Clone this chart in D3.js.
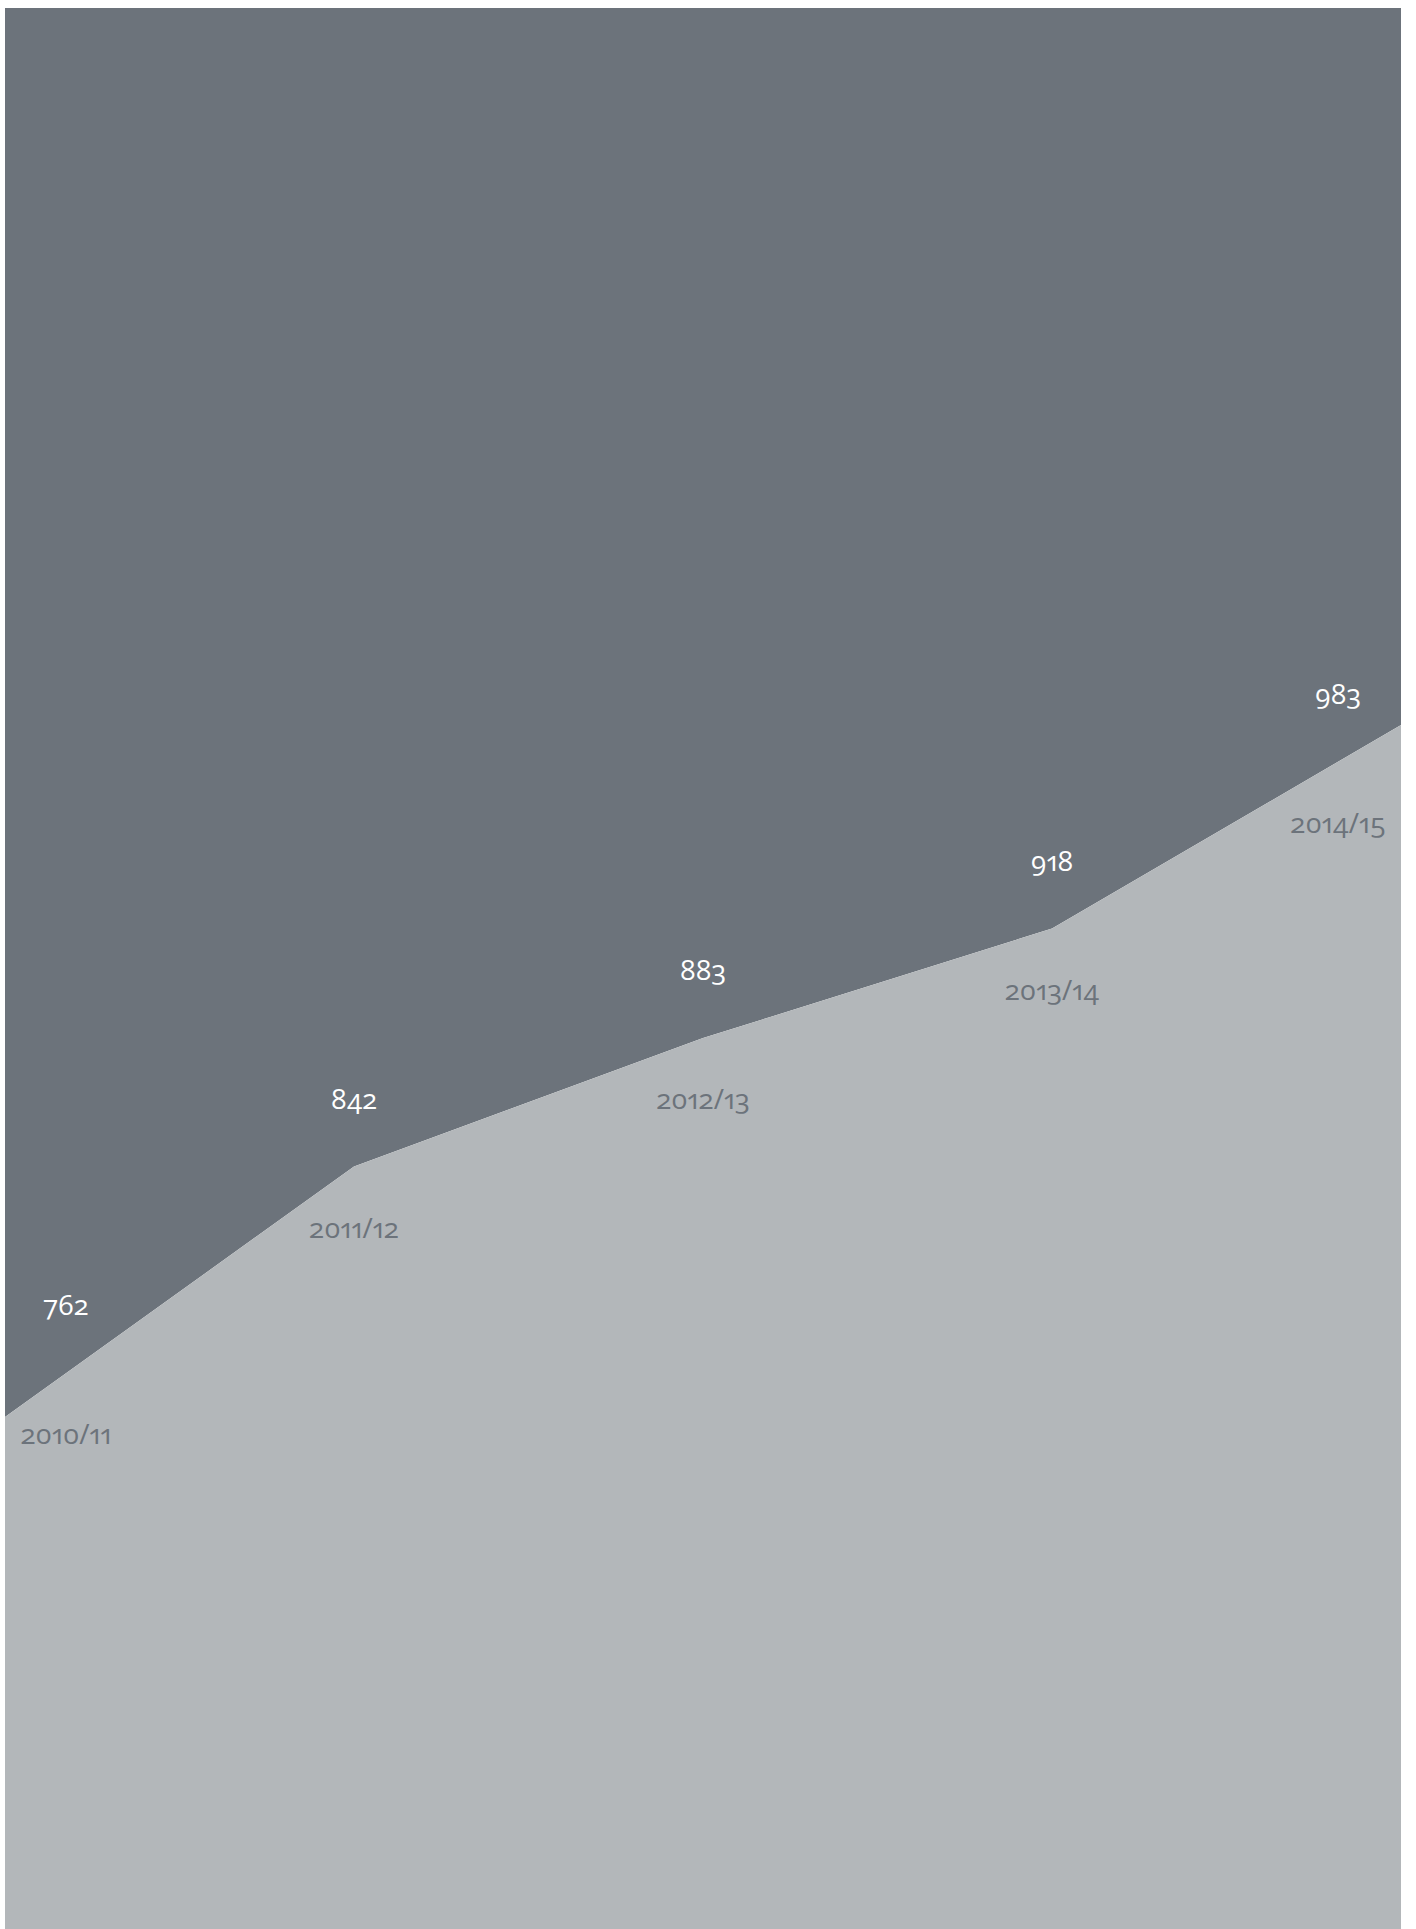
<!DOCTYPE html>
<html>
<head>
<meta charset="utf-8">
<script src="https://cdn.jsdelivr.net/npm/d3@7"></script>
<style>
  html, body { margin: 0; padding: 0; background: #ffffff; }
  svg { display: block; }
  text { font-family: "Open Sans", "Noto Sans", sans-serif; font-feature-settings: "onum" 1, "pnum" 1; font-variant-numeric: oldstyle-nums proportional-nums; }
</style>
</head>
<body>
<svg id="chart" width="1416" height="1929"></svg>
<script>
const years = ["2010/11", "2011/12", "2012/13", "2013/14", "2014/15"];
const values = [762, 842, 883, 918, 983];

const W = 1416, H = 1929;
const mLeft = 5, mRight = 1401, mTop = 8, mBottom = 1929;
const darkColor = "#6c737b", lightColor = "#b3b7ba";

const svg = d3.select("#chart");

const x = d3.scalePoint().domain(years).range([mLeft, mRight]);
const y = d3.scaleLinear().domain([d3.min(values), d3.max(values)]).range([1417, 725]);

const data = years.map((yr, i) => ({ year: yr, value: values[i] }));

// dark upper area
svg.append("path")
  .datum(data)
  .attr("fill", darkColor)
  .attr("d", d3.area().x(d => x(d.year)).y0(mTop).y1(d => y(d.value)));

// light lower area
svg.append("path")
  .datum(data)
  .attr("fill", lightColor)
  .attr("d", d3.area().x(d => x(d.year)).y0(d => y(d.value)).y1(mBottom));

// line y at arbitrary x (piecewise linear)
const lineY = px => {
  const xs = data.map(d => x(d.year));
  const ys = data.map(d => y(d.value));
  for (let i = 0; i < xs.length - 1; i++) {
    if (px <= xs[i + 1]) {
      const t = (px - xs[i]) / (xs[i + 1] - xs[i]);
      return ys[i] + t * (ys[i + 1] - ys[i]);
    }
  }
  return ys[ys.length - 1];
};

const labelX = d => Math.max(mLeft + 61, Math.min(mRight - 63, x(d.year)));

svg.append("g").selectAll("text")
  .data(data).join("text")
  .attr("x", labelX)
  .attr("y", d => lineY(labelX(d)) - 58)
  .attr("text-anchor", "middle")
  .attr("fill", "#ffffff")
  .attr("font-size", 27.5)
  .text(d => d.value);

svg.append("g").selectAll("text")
  .data(data).join("text")
  .attr("x", labelX)
  .attr("y", d => lineY(labelX(d)) + 71)
  .attr("text-anchor", "middle")
  .attr("fill", darkColor)
  .attr("font-size", 28)
  .text(d => d.year);
</script>
</body>
</html>
